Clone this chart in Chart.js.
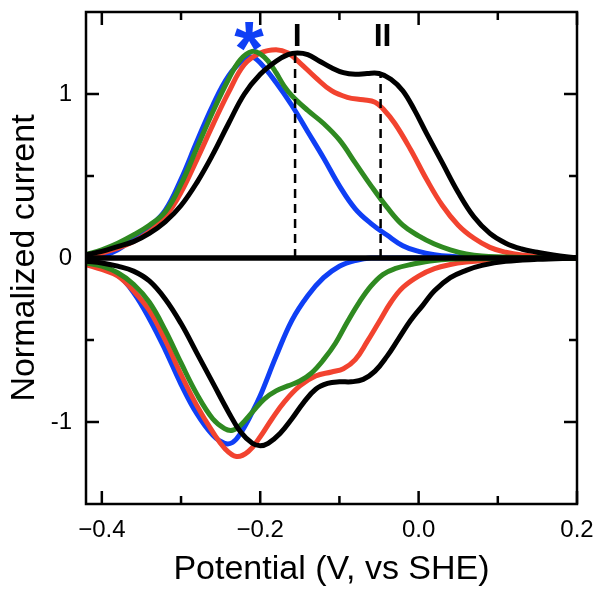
<!DOCTYPE html>
<html>
<head>
<meta charset="utf-8">
<script src="https://cdn.jsdelivr.net/npm/chart.js@4.4.1/dist/chart.umd.min.js"></script>
<style>
  html, body { margin: 0; padding: 0; background: #fff; }
  #wrap { width: 603px; height: 600px; }
</style>
</head>
<body>
<div id="wrap"><canvas id="c" width="603" height="600"></canvas></div>
<script>
// ---- Tick positions and labels ----
const xMajorTicks = [-0.4, -0.2, 0.0, 0.2];
const xMajorLabels = ['\u22120.4', '\u22120.2', '0.0', '0.2'];
const xMinorTicks = [-0.3, -0.1, 0.1];
const yMajorTicks = [-1, 0, 1];
const yMajorLabels = ['-1', '0', '1'];
const yMinorTicks = [-0.5, 0.5];

// ---- Oxidative (upper) branches: [potential V, normalized current] ----
const blueOx = [[-0.42,-0.01],[-0.40,0.01],[-0.38,0.05],[-0.36,0.12],[-0.34,0.19],[-0.32,0.29],[-0.30,0.48],[-0.28,0.71],[-0.26,0.93],[-0.24,1.11],[-0.22,1.215],[-0.21,1.225],[-0.20,1.19],[-0.18,1.07],[-0.16,0.93],[-0.14,0.77],[-0.12,0.61],[-0.10,0.44],[-0.08,0.30],[-0.06,0.21],[-0.04,0.14],[-0.02,0.075],[0.00,0.04],[0.02,0.02],[0.04,0.01],[0.08,0.0],[0.2,0.0]];
const greenOx = [[-0.42,0.02],[-0.40,0.05],[-0.38,0.09],[-0.36,0.14],[-0.34,0.20],[-0.32,0.28],[-0.30,0.45],[-0.28,0.67],[-0.26,0.89],[-0.24,1.09],[-0.225,1.21],[-0.21,1.26],[-0.20,1.245],[-0.19,1.20],[-0.18,1.13],[-0.17,1.05],[-0.16,0.99],[-0.14,0.90],[-0.12,0.82],[-0.10,0.72],[-0.08,0.58],[-0.06,0.44],[-0.04,0.31],[-0.02,0.20],[0.00,0.135],[0.02,0.085],[0.04,0.05],[0.06,0.025],[0.08,0.012],[0.12,0.004],[0.2,0.0]];
const redOx = [[-0.42,0.0],[-0.40,0.03],[-0.38,0.06],[-0.36,0.10],[-0.34,0.16],[-0.32,0.25],[-0.30,0.40],[-0.28,0.60],[-0.26,0.81],[-0.24,1.01],[-0.22,1.18],[-0.20,1.25],[-0.18,1.27],[-0.165,1.25],[-0.15,1.19],[-0.13,1.10],[-0.11,1.02],[-0.09,0.98],[-0.07,0.965],[-0.055,0.95],[-0.045,0.91],[-0.03,0.82],[-0.01,0.66],[0.01,0.48],[0.03,0.32],[0.05,0.20],[0.07,0.12],[0.09,0.065],[0.11,0.035],[0.13,0.018],[0.16,0.006],[0.2,0.0]];
const blackOx = [[-0.42,0.02],[-0.40,0.04],[-0.38,0.07],[-0.36,0.10],[-0.34,0.15],[-0.32,0.22],[-0.30,0.32],[-0.28,0.46],[-0.26,0.63],[-0.24,0.82],[-0.22,1.00],[-0.20,1.12],[-0.18,1.20],[-0.165,1.24],[-0.153,1.25],[-0.14,1.24],[-0.125,1.20],[-0.11,1.16],[-0.095,1.13],[-0.08,1.12],[-0.065,1.125],[-0.05,1.125],[-0.035,1.09],[-0.02,1.02],[-0.005,0.90],[0.01,0.76],[0.03,0.58],[0.05,0.40],[0.07,0.25],[0.09,0.15],[0.11,0.09],[0.13,0.055],[0.15,0.035],[0.17,0.018],[0.2,0.0]];

// ---- Reductive (lower) branches ----
const blueRed = [[-0.42,-0.02],[-0.40,-0.05],[-0.38,-0.10],[-0.36,-0.21],[-0.34,-0.37],[-0.32,-0.56],[-0.30,-0.77],[-0.28,-0.95],[-0.26,-1.08],[-0.245,-1.13],[-0.235,-1.125],[-0.225,-1.07],[-0.21,-0.94],[-0.20,-0.84],[-0.18,-0.60],[-0.16,-0.38],[-0.14,-0.23],[-0.12,-0.12],[-0.10,-0.05],[-0.08,-0.015],[-0.06,0.0],[0.2,0.0]];
const greenRed = [[-0.42,-0.03],[-0.40,-0.05],[-0.38,-0.09],[-0.36,-0.16],[-0.34,-0.27],[-0.32,-0.44],[-0.30,-0.64],[-0.28,-0.83],[-0.26,-0.98],[-0.245,-1.04],[-0.235,-1.05],[-0.225,-1.02],[-0.21,-0.94],[-0.195,-0.86],[-0.18,-0.81],[-0.165,-0.78],[-0.15,-0.75],[-0.135,-0.70],[-0.12,-0.62],[-0.105,-0.52],[-0.09,-0.39],[-0.075,-0.27],[-0.06,-0.17],[-0.045,-0.10],[-0.03,-0.065],[-0.01,-0.04],[0.02,-0.015],[0.06,-0.005],[0.2,0.0]];
const redRed = [[-0.42,-0.04],[-0.40,-0.07],[-0.38,-0.11],[-0.36,-0.20],[-0.34,-0.32],[-0.32,-0.50],[-0.30,-0.71],[-0.28,-0.90],[-0.26,-1.06],[-0.245,-1.16],[-0.23,-1.21],[-0.215,-1.18],[-0.20,-1.09],[-0.185,-0.98],[-0.17,-0.88],[-0.15,-0.78],[-0.13,-0.72],[-0.11,-0.695],[-0.095,-0.675],[-0.08,-0.62],[-0.065,-0.51],[-0.05,-0.39],[-0.035,-0.27],[-0.02,-0.18],[0.00,-0.11],[0.02,-0.065],[0.04,-0.04],[0.06,-0.025],[0.09,-0.012],[0.13,-0.004],[0.2,0.0]];
const blackRed = [[-0.42,-0.02],[-0.40,-0.03],[-0.38,-0.05],[-0.36,-0.08],[-0.34,-0.14],[-0.32,-0.25],[-0.30,-0.40],[-0.28,-0.58],[-0.26,-0.76],[-0.24,-0.94],[-0.225,-1.06],[-0.21,-1.13],[-0.20,-1.145],[-0.19,-1.13],[-0.175,-1.07],[-0.16,-0.98],[-0.145,-0.88],[-0.13,-0.80],[-0.115,-0.765],[-0.10,-0.755],[-0.085,-0.755],[-0.07,-0.74],[-0.055,-0.69],[-0.04,-0.60],[-0.025,-0.49],[-0.01,-0.38],[0.005,-0.29],[0.02,-0.20],[0.04,-0.12],[0.06,-0.075],[0.08,-0.045],[0.11,-0.02],[0.15,-0.008],[0.2,0.0]];

// ---- Baseline and marked peaks ----
const baseline = [[-0.42,0],[0.2,0]];
const peakLabels = ['I', 'II'];
const peakPotentials = [-0.156, -0.048];
const peakHeights = [1.25, 1.13];
const starPotential = -0.213;

const COLORS = { blue: '#0f3ff5', red: '#f2432f', green: '#2f8a21', black: '#000000' };
const FONT = '"Liberation Sans", Arial, Helvetica, sans-serif';

const toPts = arr => arr.map(p => ({ x: p[0], y: p[1] }));
function curve(label, arr, color, order) {
  return { label, data: toPts(arr), borderColor: color, backgroundColor: color,
    borderWidth: 5, pointRadius: 0, showLine: true, fill: false,
    tension: 0.4, order, borderCapStyle: 'round', borderJoinStyle: 'round' };
}

const datasets = [
  curve('blue ox', blueOx, COLORS.blue, 5),
  curve('blue red', blueRed, COLORS.blue, 5),
  curve('red ox', redOx, COLORS.red, 4),
  curve('red red', redRed, COLORS.red, 4),
  curve('green ox', greenOx, COLORS.green, 3),
  curve('green red', greenRed, COLORS.green, 3),
  curve('black ox', blackOx, COLORS.black, 2),
  curve('black red', blackRed, COLORS.black, 2),
  { label: 'baseline', data: toPts(baseline), borderColor: '#000', borderWidth: 5.5, pointRadius: 0, showLine: true, order: 1 }
];
peakPotentials.forEach((p, i) => {
  datasets.push({ label: 'peak ' + peakLabels[i], data: [{ x: p, y: 0 }, { x: p, y: peakHeights[i] }],
    borderColor: '#000', borderWidth: 2.5, borderDash: [9, 6], pointRadius: 0, showLine: true, order: 0 });
});

const frameTicks = {
  id: 'frameTicks',
  afterDatasetsDraw(chart) {
    const { ctx, chartArea: { left, right, top, bottom }, scales: { x, y } } = chart;
    ctx.save();
    ctx.strokeStyle = '#000';
    ctx.lineWidth = 2.5;
    ctx.strokeRect(left, top, right - left, bottom - top);
    const MAJ = 13, MIN = 8;
    ctx.beginPath();
    const xt = (v, len) => {
      const px = x.getPixelForValue(v);
      ctx.moveTo(px, bottom); ctx.lineTo(px, bottom - len);
      ctx.moveTo(px, top); ctx.lineTo(px, top + len);
    };
    const yt = (v, len) => {
      const py = y.getPixelForValue(v);
      ctx.moveTo(left, py); ctx.lineTo(left + len, py);
      ctx.moveTo(right, py); ctx.lineTo(right - len, py);
    };
    xMajorTicks.forEach(v => xt(v, MAJ));
    xMinorTicks.forEach(v => xt(v, MIN));
    yMajorTicks.forEach(v => yt(v, MAJ));
    yMinorTicks.forEach(v => yt(v, MIN));
    ctx.stroke();
    // peak labels
    ctx.fillStyle = '#000';
    ctx.font = 'bold 32px ' + FONT;
    ctx.textAlign = 'center';
    ctx.textBaseline = 'alphabetic';
    peakLabels.forEach((t, i) => ctx.fillText(t, x.getPixelForValue(peakPotentials[i]) + 2, top + 34));
    ctx.fillStyle = COLORS.blue;
    ctx.font = 'bold 76px ' + FONT;
    ctx.fillText('*', x.getPixelForValue(starPotential) - 1, top + 62);
    ctx.restore();
  }
};

new Chart(document.getElementById('c'), {
  type: 'scatter',
  data: { datasets },
  options: {
    responsive: false,
    devicePixelRatio: 1,
    animation: false,
    layout: { padding: { top: 12, right: 26, left: 0, bottom: 0 } },
    plugins: { legend: { display: false }, tooltip: { enabled: false } },
    scales: {
      x: {
        type: 'linear', min: -0.42, max: 0.2,
        afterBuildTicks: s => { s.ticks = xMajorTicks.map(v => ({ value: v })); },
        afterFit: s => { s.height = 96; s.paddingLeft = 0; s.paddingRight = 0; },
        grid: { display: false, drawTicks: false },
        border: { display: false },
        ticks: { autoSkip: false, maxRotation: 0, padding: 12, color: '#000',
          font: { family: FONT, size: 24 },
          callback: (v) => { const i = xMajorTicks.findIndex(t => Math.abs(t - v) < 1e-9); return i >= 0 ? xMajorLabels[i] : ''; } },
        title: { display: true, text: 'Potential (V, vs SHE)', color: '#000', font: { family: FONT, size: 34 }, padding: { top: 0, bottom: 10 } }
      },
      y: {
        type: 'linear', min: -1.5, max: 1.5,
        afterBuildTicks: s => { s.ticks = yMajorTicks.map(v => ({ value: v })); },
        afterFit: s => { s.width = 86; s.paddingTop = 0; s.paddingBottom = 0; },
        grid: { display: false, drawTicks: false },
        border: { display: false },
        ticks: { autoSkip: false, padding: 14, color: '#000',
          font: { family: FONT, size: 24 },
          callback: (v) => { const i = yMajorTicks.findIndex(t => Math.abs(t - v) < 1e-9); return i >= 0 ? yMajorLabels[i] : ''; } },
        title: { display: true, text: 'Normalized current', color: '#000', font: { family: FONT, size: 34 }, padding: { top: 4, bottom: 0 } }
      }
    }
  },
  plugins: [frameTicks]
});
</script>
</body>
</html>
